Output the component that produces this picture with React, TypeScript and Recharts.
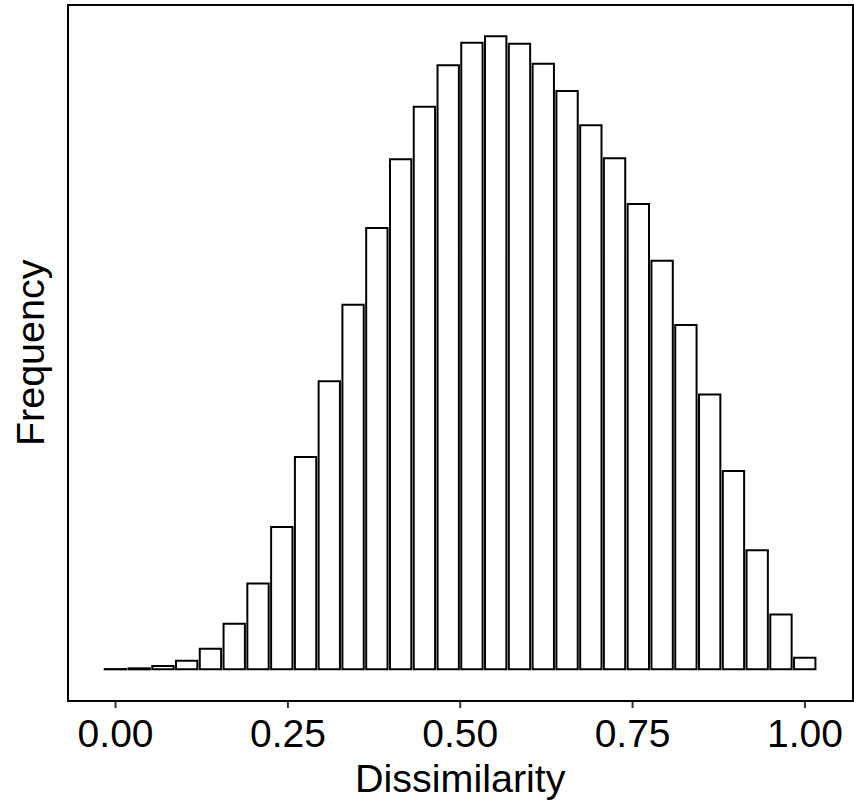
import { BarChart, Bar, XAxis, YAxis } from 'recharts';

// bin centres of the 30 histogram bins
const binCenters = [
  0.0, 0.0345, 0.069, 0.1034, 0.1379, 0.1724, 0.2069, 0.2414, 0.2759, 0.3103,
  0.3448, 0.3793, 0.4138, 0.4483, 0.4828, 0.5172, 0.5517, 0.5862, 0.6207, 0.6552,
  0.6897, 0.7241, 0.7586, 0.7931, 0.8276, 0.8621, 0.8966, 0.931, 0.9655, 1.0,
];

const counts = [
  3, 10, 33, 86, 206, 456, 860, 1426, 2126, 2886,
  3653, 4420, 5110, 5636, 6050, 6276, 6340, 6266, 6066, 5793,
  5450, 5120, 4660, 4093, 3450, 2753, 1986, 1193, 550, 116,
];

const xTicks = [0, 0.25, 0.5, 0.75, 1];

const data = binCenters.map((x, i) => ({ x, count: counts[i] }));

const X_DOMAIN: [number, number] = [-0.069, 1.069];
const Y_DOMAIN: [number, number] = [-317, 6657];
const FONT = '"Liberation Sans", Arial, sans-serif';

const YTitle = () => (
  <text
    x={44}
    y={352.8}
    transform="rotate(-90, 44, 352.8)"
    textAnchor="middle"
    fontSize={39.5}
    fontFamily={FONT}
    fill="#000"
  >
    Frequency
  </text>
);

export default function App() {
  return (
    <div
      style={{
        position: 'fixed',
        left: 0,
        top: 0,
        width: 854,
        height: 809,
        background: '#fff',
        overflow: 'hidden',
      }}
    >
      <BarChart
        width={854}
        height={809}
        data={data}
        margin={{ top: 4.7, right: 1.5, left: 0, bottom: 0 }}
        barGap={0}
      >
        <XAxis
          dataKey="x"
          type="number"
          domain={X_DOMAIN}
          allowDataOverflow
          ticks={xTicks}
          tickFormatter={(v: number) => v.toFixed(2)}
          height={108}
          axisLine={false}
          tickSize={7}
          tickMargin={11}
          tickLine={{ stroke: '#333', strokeWidth: 2 }}
          tick={{ fontSize: 39, fontFamily: FONT, fill: '#000' }}
          label={{
            value: 'Dissimilarity',
            position: 'insideBottom',
            offset: 17,
            fontSize: 39.5,
            fontFamily: FONT,
            fill: '#000',
          }}
        />
        <YAxis
          type="number"
          domain={Y_DOMAIN}
          allowDataOverflow
          width={68}
          tick={false}
          tickLine={false}
          axisLine={false}
          label={<YTitle />}
        />
        <Bar
          dataKey="count"
          fill="#fff"
          stroke="#000"
          strokeWidth={2}
          barSize={23.8}
          isAnimationActive={false}
        />
      </BarChart>
      {/* panel border */}
      <div
        style={{
          position: 'absolute',
          left: 67,
          top: 3.7,
          width: 786.5,
          height: 698.3,
          border: '2px solid #000',
          boxSizing: 'border-box',
          pointerEvents: 'none',
        }}
      />
    </div>
  );
}
